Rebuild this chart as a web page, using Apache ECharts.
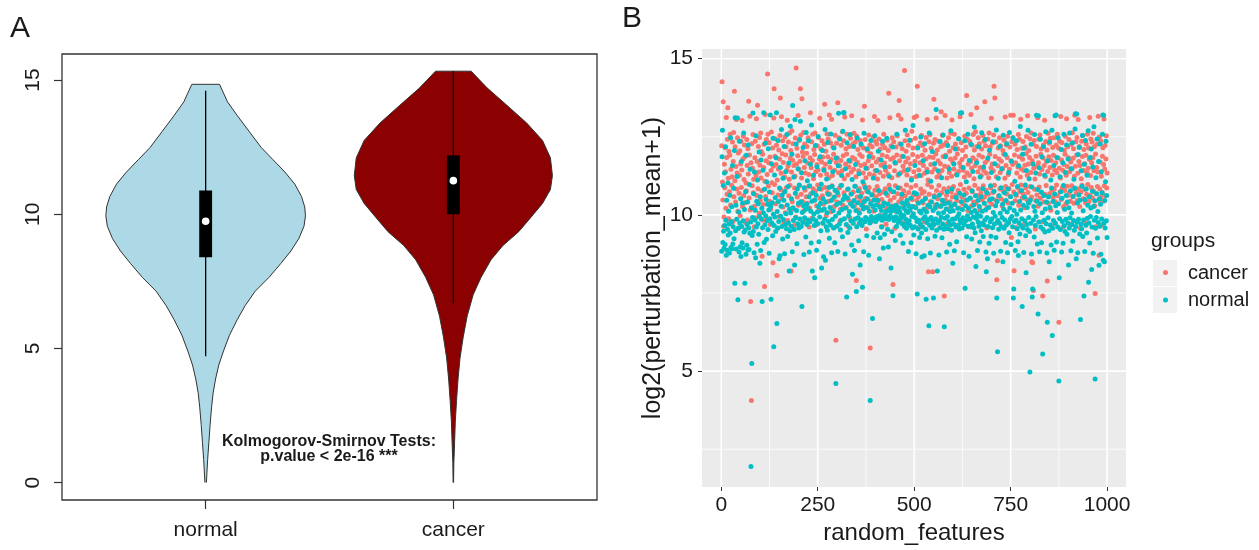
<!DOCTYPE html>
<html><head><meta charset="utf-8">
<script src="https://cdn.jsdelivr.net/npm/echarts@6/dist/echarts.min.js"></script>
<style>html,body{margin:0;padding:0;background:#fff}#c{width:1259px;height:550px}</style>
</head><body><div id="c"></div>
<script>
// ---------- Panel A: violin plot ----------
const violinCategories = ['normal', 'cancer'];
const violinPositions = [1, 2];
const violinColors = ['#ADD8E6', '#8B0000'];
const violinTicks = [0, 5, 10, 15];
// density outline (value, half width in category units)
const normalViolinY = [14.84,14.19,13.67,13.08,12.49,12.03,11.57,11.12,10.66,10.27,9.94,9.55,9.09,8.63,8.17,7.65,7.13,6.6,6.08,5.49,4.9,4.38,3.86,3.33,2.81,2.16,1.5,0.85,0];
const normalViolinHalfWidth = [0.056,0.088,0.128,0.176,0.224,0.272,0.32,0.36,0.387,0.40,0.403,0.397,0.376,0.344,0.304,0.256,0.20,0.16,0.128,0.096,0.072,0.053,0.04,0.03,0.024,0.018,0.013,0.008,0.003];
const cancerViolinY = [15.33,14.71,14.06,13.4,12.75,12.1,11.44,10.92,10.4,9.87,9.35,8.83,8.3,7.65,7.0,6.21,5.43,4.64,3.86,3.07,2.29,1.5,0.72,0];
const cancerViolinHalfWidth = [0.072,0.136,0.216,0.296,0.36,0.392,0.40,0.392,0.36,0.312,0.264,0.20,0.152,0.112,0.08,0.056,0.04,0.027,0.019,0.013,0.008,0.005,0.002,0.001];
const boxQ1 = [8.4, 10.0];
const boxQ3 = [10.88, 12.19];
const boxMedian = [9.74, 11.25];
const whiskerLow = [4.71, 6.67];
const whiskerHigh = [14.6, 15.33];
const annotationLines = ['Kolmogorov-Smirnov Tests:', 'p.value < 2e-16 ***'];

// ---------- Panel B: scatter ----------
const scatterGroups = ['cancer', 'normal'];
const scatterColors = ['#F8766D', '#00BFC4'];
const scatterXTicks = [0, 250, 500, 750, 1000];
const scatterXMinor = [125, 375, 625, 875];
const scatterYTicks = [5, 10, 15];
const scatterYMinor = [2.5, 7.5, 12.5];
const cancerValues = [
12.21,14.26,11.05,10.48,13.62,9.64,9.93,11.62,10.87,12.15,11.38,10.21,13.12,11.84,10.66,12.42,13.43,11.17,9.88,12.03,
10.74,11.91,12.58,10.32,11.46,9.71,10.95,11.22,12.33,9.79,11.71,12.64,10.58,13.96,11.09,12.18,10.41,11.55,13.05,10.83,
11.34,12.47,10.12,11.98,9.58,10.69,11.27,12.05,9.97,11.63,12.36,10.88,11.44,13.02,10.27,11.79,12.52,10.61,11.13,12.24,
11.86,10.39,9.76,11.02,10.77,12.41,11.58,9.84,12.12,11.31,13.64,10.54,11.92,13.16,10.16,7.23,11.67,4.06,12.28,10.93,
11.49,12.57,10.71,11.14,9.62,10.28,11.83,12.36,9.91,11.26,13.08,10.62,11.71,13.51,10.84,12.19,11.37,10.05,12.48,11.59,
10.46,12.62,11.18,12.03,10.77,8.68,11.94,9.83,10.33,11.52,12.26,7.71,11.08,13.21,10.59,11.73,12.41,9.86,11.29,14.51,
12.58,10.92,11.67,12.31,10.44,11.85,9.69,10.18,11.42,12.65,11.03,10.71,12.14,8.47,11.56,13.10,14.04,10.97,11.88,12.44,
10.36,11.61,12.23,8.06,11.12,9.57,10.64,11.47,12.08,9.95,11.79,12.54,13.74,10.81,11.33,13.14,10.52,11.96,12.37,10.25,
11.68,9.74,10.73,11.21,12.49,10.07,11.92,12.18,10.88,11.43,13.03,9.82,11.56,12.33,10.61,11.14,12.62,10.95,11.81,12.06,
8.20,11.37,12.69,10.42,11.75,12.28,10.19,11.58,9.66,10.86,11.24,12.46,9.93,14.70,11.63,12.13,10.57,11.89,13.18,10.31,
11.46,12.38,10.94,11.72,14.04,12.55,10.66,11.18,13.72,12.01,10.43,11.87,12.64,10.13,11.52,12.27,10.79,11.34,9.79,10.58,
11.97,12.19,10.37,11.66,12.47,10.91,11.29,9.61,10.22,11.83,13.27,10.68,11.51,12.34,9.89,11.74,12.58,10.84,11.16,12.09,
10.47,11.93,12.62,10.76,11.38,9.68,10.29,11.61,12.21,10.96,11.44,12.48,10.14,11.78,13.09,10.53,11.27,12.11,10.82,11.69,
12.37,10.61,11.85,9.73,10.35,11.48,12.26,13.54,10.88,11.62,12.04,9.97,11.31,12.59,10.72,11.86,12.43,10.44,11.19,13.20,
10.66,11.52,12.31,10.09,11.77,13.06,10.93,11.26,12.18,10.51,11.94,9.59,10.27,11.43,12.55,10.78,5.99,11.68,12.29,10.41,
11.82,13.59,10.63,11.35,12.47,10.86,11.57,9.81,10.18,11.74,12.23,10.95,11.41,12.66,10.32,11.89,12.37,10.71,11.16,13.13,
10.56,11.63,12.12,10.24,11.95,12.58,10.81,11.28,9.64,10.47,11.53,12.19,9.92,11.71,12.45,10.67,11.37,13.17,10.39,11.84,
12.27,10.73,11.46,12.61,10.28,11.79,12.33,10.92,11.22,7.90,12.52,10.57,11.68,12.09,10.16,11.41,9.72,10.84,11.93,12.38,
10.45,11.58,12.22,10.69,11.87,13.04,10.31,11.34,12.14,10.97,13.48,11.62,12.41,10.53,11.19,9.55,10.76,11.49,12.06,10.22,
11.73,12.56,10.88,11.31,12.24,5.74,11.96,9.78,10.43,11.57,12.18,10.65,11.84,12.49,10.12,11.27,13.15,10.79,11.42,12.35,
10.58,11.69,12.27,10.91,11.15,13.02,10.34,11.78,12.43,10.67,11.36,12.11,9.98,11.59,9.63,10.49,11.92,12.26,10.73,11.24,
12.58,10.38,11.66,12.15,10.84,11.43,9.70,10.21,11.87,12.39,10.62,11.31,12.06,13.89,10.95,11.54,13.11,10.47,11.78,12.21,
10.74,11.19,12.47,10.29,7.77,11.83,12.34,10.56,11.41,9.57,10.93,11.65,12.17,10.11,11.92,12.53,10.68,11.27,13.19,10.42,
13.66,11.73,12.28,10.86,11.35,13.07,10.53,11.88,12.12,10.24,11.56,9.74,10.77,11.42,14.62,12.37,10.61,11.69,12.04,10.96,
11.28,12.56,10.37,11.81,12.23,10.72,11.47,9.66,10.15,11.64,12.39,10.88,11.17,12.68,10.49,11.93,12.14,10.63,11.38,13.12,
10.27,11.72,12.45,10.94,11.23,13.16,10.46,14.12,11.86,12.19,10.58,11.44,9.61,10.12,11.67,12.31,10.83,11.26,12.54,10.69,
11.91,12.22,10.38,11.58,9.77,10.74,11.33,12.07,10.55,11.79,12.48,10.21,11.46,13.05,10.97,11.12,8.18,12.34,10.66,11.85,
12.57,10.43,11.61,12.13,10.89,11.37,9.68,8.18,11.84,12.29,13.70,10.62,11.48,12.41,10.31,11.95,13.10,10.78,11.21,12.08,
10.52,11.73,12.36,10.94,11.29,9.59,10.27,11.64,12.19,13.30,10.71,11.42,12.55,10.36,11.87,12.24,10.84,7.40,11.56,13.18,
10.48,11.91,12.32,10.63,11.18,9.72,10.19,11.53,12.47,10.86,11.36,12.04,10.42,11.79,12.61,10.73,11.24,13.04,10.57,11.68,
12.15,10.91,11.47,12.58,10.33,11.82,12.27,10.64,11.31,9.65,10.46,11.95,12.12,10.78,11.39,12.44,10.22,11.66,13.14,10.97,
11.54,12.31,10.58,11.77,12.06,10.35,11.43,9.80,10.82,11.21,12.52,10.47,11.88,12.17,10.69,13.82,11.34,12.41,10.14,11.62,
9.62,10.86,11.27,12.35,10.53,11.71,13.21,10.28,11.49,12.23,10.74,11.83,12.57,10.41,11.16,12.08,10.95,11.58,12.66,10.37,
11.74,13.43,12.19,10.62,11.38,12.47,10.84,11.91,12.28,10.16,11.52,9.71,10.69,11.26,12.11,10.48,11.85,12.54,10.93,11.42,
12.36,10.57,13.62,11.68,12.21,10.79,11.33,9.58,10.25,11.76,12.43,10.66,11.19,12.62,10.44,11.94,12.17,10.87,11.51,13.09,
10.34,11.63,12.29,10.72,11.41,12.56,14.12,10.95,13.74,11.87,12.33,10.48,11.22,7.92,9.76,8.53,11.57,12.14,10.61,11.79,
12.47,10.83,11.36,12.21,10.52,11.72,9.63,10.29,11.48,12.06,10.76,11.95,12.39,10.44,11.17,13.13,10.91,11.58,12.24,10.67,
11.84,12.52,10.38,11.29,9.74,10.84,11.46,12.17,10.59,13.19,11.73,9.28,12.34,10.97,11.61,12.48,13.19,10.73,8.21,11.92,
12.26,10.45,11.67,9.60,10.62,11.34,12.09,10.88,11.53,12.57,10.31,11.86,12.42,10.74,11.21,13.06,10.96,11.47,12.13,10.54,
11.78,12.35,10.67,11.42,9.69,10.23,11.59,12.18,10.86,11.96,12.51,10.49,11.27,13.17,10.72,11.63,12.06,10.38,11.84,12.44,
10.91,11.36,12.62,10.57,8.50,11.73,8.47,12.27,7.58,11.49,12.38,10.82,11.15,9.55,10.46,11.88,12.19,10.64,11.56,13.11,
10.28,11.67,12.42,10.89,11.31,12.56,10.53,11.94,12.11,10.72,11.45,9.78,7.40,11.82,12.24,10.41,11.58,13.03,10.66,11.23,
12.35,10.94,11.71,12.08,7.88,11.39,12.61,10.37,11.86,12.29,10.68,11.52,12.45,10.15,11.74,9.64,10.79,11.28,12.16,10.56,
11.91,12.47,10.83,11.44,9.73,10.42,11.67,12.23,10.96,11.35,12.58,10.61,11.82,12.14,6.56,11.49,12.36,10.74,11.18,13.15,
10.49,11.76,12.31,10.87,11.43,9.61,10.26,11.61,12.07,10.78,11.94,12.52,10.35,11.27,13.08,10.92,11.55,12.18,10.63,11.83,
12.41,10.71,11.38,9.70,10.44,11.69,12.25,10.93,11.47,12.63,10.58,11.81,12.12,10.37,11.24,13.19,10.82,11.56,12.34,10.69,
11.92,12.48,10.46,11.33,13.05,10.84,11.71,12.19,10.27,11.58,9.57,10.73,11.16,12.36,10.95,11.87,12.54,10.52,11.42,12.09,
10.81,11.64,9.75,10.39,11.91,12.27,10.66,11.35,12.58,10.97,11.49,12.14,10.43,11.78,13.12,10.62,11.26,12.43,10.88,11.67,
12.33,10.54,11.83,12.61,10.76,11.41,12.18,10.29,7.48,11.95,9.62,10.68,11.52,12.26,10.91,11.37,13.16,10.47,8.71,12.49,
10.83,11.69,12.37,10.57,11.24,9.68,10.72,11.88,12.15,10.44,11.61,13.07,10.93,11.47,12.22,10.61,11.79,12.53,10.86,11.34
];
const normalValues = [
8.84,11.86,12.71,9.12,10.94,9.48,8.93,11.34,9.66,9.05,12.18,9.83,8.71,10.47,8.87,9.54,11.02,9.36,10.12,9.71,
8.78,10.63,9.42,12.47,8.96,9.78,10.26,8.92,11.58,9.07,9.62,10.85,9.24,12.06,7.81,13.11,9.49,10.31,8.91,9.86,
11.23,13.10,7.28,9.57,10.09,8.81,12.36,9.74,8.98,10.52,8.67,11.71,9.63,9.11,10.38,8.94,9.81,12.62,9.45,10.17,
7.81,9.52,10.74,8.74,11.91,9.03,9.69,10.41,8.88,12.24,9.58,8.89,10.97,9.41,11.46,9.77,1.95,10.23,5.24,9.34,
9.92,13.26,9.47,10.68,8.79,11.37,9.84,10.15,8.63,12.53,9.61,10.44,9.06,11.12,9.72,10.36,9.38,12.01,9.95,8.45,
10.58,8.86,11.76,9.87,10.21,7.23,9.59,11.43,10.07,13.27,9.12,10.82,9.68,12.29,9.97,10.49,9.22,11.05,9.81,10.34,
9.53,12.12,10.16,8.77,10.73,9.88,13.20,10.27,7.30,11.64,9.74,10.39,9.33,12.45,10.02,5.78,9.66,11.28,9.93,10.55,
9.47,11.83,13.27,6.52,10.11,9.58,12.38,10.43,9.79,8.60,10.86,8.69,11.52,9.96,10.28,12.73,9.63,10.64,9.23,11.17,
9.85,10.47,12.19,8.76,10.75,9.69,11.38,10.04,9.56,12.57,10.32,9.31,10.91,9.74,11.66,8.20,10.18,9.49,12.84,10.06,
9.64,10.52,11.94,8.82,13.50,10.23,9.82,11.21,9.53,8.40,13.05,10.69,9.91,12.27,10.14,9.08,10.83,9.72,11.48,10.37,
9.58,10.96,12.41,9.87,13.00,10.42,9.63,11.35,7.07,10.08,9.76,12.16,10.29,8.73,10.87,9.91,11.73,10.17,9.29,12.64,
10.35,9.69,11.09,10.21,9.84,12.37,10.58,8.81,10.93,9.78,11.62,10.12,9.10,12.88,10.44,8.20,10.71,9.88,11.27,10.03,
9.66,7.99,10.48,12.22,9.81,10.63,8.87,11.54,10.09,9.72,12.51,10.26,9.14,10.84,9.93,11.86,10.37,9.49,10.98,8.30,
10.15,12.06,9.74,10.52,8.66,11.43,10.19,9.86,12.73,8.55,10.41,9.62,11.15,10.07,9.51,12.32,10.66,9.79,10.88,9.25,
11.69,10.24,9.67,12.59,10.46,8.79,10.91,9.85,11.38,10.13,9.58,12.14,10.57,9.11,10.79,9.96,4.60,11.82,10.33,9.64,
10.72,8.83,11.57,13.25,10.06,9.71,12.43,10.38,9.52,10.94,9.83,11.26,10.17,9.30,12.68,10.49,13.27,13.28,9.88,10.61,
8.75,11.48,10.22,9.69,7.37,12.31,10.54,9.44,10.83,9.97,11.74,10.11,9.58,12.57,10.36,9.81,10.67,9.04,11.13,8.10,
10.28,9.73,12.19,10.46,8.86,10.92,9.87,11.61,10.14,7.55,9.62,12.46,10.39,9.91,10.77,9.17,11.32,10.05,9.76,8.40,
10.59,12.27,9.84,10.31,9.66,7.68,11.06,10.19,8.82,12.61,10.43,9.78,10.88,9.92,11.49,10.24,9.33,12.11,10.51,9.86,
10.73,8.71,11.87,10.12,9.74,4.06,10.36,12.38,9.95,10.64,9.82,6.68,10.27,11.18,9.28,10.48,9.88,12.53,10.16,9.79,
10.32,9.94,11.42,9.42,9.86,10.47,12.04,10.78,9.97,8.60,10.25,9.27,9.91,11.76,10.14,9.61,9.83,12.36,10.29,8.94,
9.96,10.38,9.38,11.53,10.04,9.88,10.69,10.12,12.45,9.93,9.54,10.35,8.97,9.85,11.24,10.19,10.82,9.97,10.11,8.30,
10.26,9.46,9.91,12.17,7.41,10.14,10.74,9.82,10.22,11.68,9.18,9.94,10.31,9.63,12.58,9.89,10.09,10.87,9.76,10.24,
11.31,10.11,9.84,9.35,10.02,12.26,9.92,10.66,10.39,9.71,9.09,11.87,9.98,10.21,9.63,10.34,12.71,9.86,10.13,9.57,
10.46,9.73,11.44,10.08,8.83,10.29,9.81,12.39,10.16,9.67,10.53,9.11,11.12,9.95,10.27,9.58,12.86,10.04,9.36,10.71,
9.62,11.58,9.91,10.23,8.76,10.68,9.79,7.47,12.14,9.55,10.37,9.83,11.26,9.28,10.12,9.71,12.49,10.06,9.42,8.65,
10.44,9.61,11.73,9.88,10.18,8.69,12.28,9.94,10.52,9.53,7.30,10.09,9.76,11.37,9.24,10.31,9.85,6.45,12.62,9.67,
10.26,8.78,11.08,9.92,10.41,9.58,12.03,9.81,10.14,7.34,9.69,10.57,11.64,9.32,10.22,9.87,13.37,9.51,10.33,8.20,
9.74,11.41,10.05,8.72,10.63,9.82,12.35,9.59,10.28,9.93,11.19,9.27,10.47,9.71,12.56,10.08,9.54,6.42,10.36,9.89,
11.86,9.63,10.19,8.81,10.74,9.95,12.22,9.56,10.38,9.79,11.47,9.06,10.11,9.68,12.69,10.27,9.51,10.83,9.86,8.45,
10.13,9.72,11.63,8.85,10.35,9.88,12.11,9.61,10.56,9.14,11.28,9.94,10.21,9.67,12.44,10.04,9.55,10.69,9.83,13.26,
9.76,10.42,13.27,9.58,10.17,9.91,11.52,8.79,10.64,9.69,12.37,7.65,10.29,9.82,11.06,9.30,10.48,9.97,12.58,9.64,
10.21,8.68,11.74,9.86,10.53,9.62,12.26,10.08,9.23,10.77,9.71,11.39,9.93,10.32,9.58,12.81,10.14,9.43,10.61,8.35,
9.89,11.67,10.04,8.86,10.46,9.77,12.18,9.64,10.27,9.13,11.21,9.96,10.58,9.49,12.63,10.12,9.73,10.84,9.31,11.53,
9.68,10.37,9.84,12.41,10.16,8.81,8.18,10.71,9.92,8.60,11.82,9.63,10.24,9.09,12.07,10.49,9.78,10.93,9.32,11.36,
9.87,10.52,9.59,12.34,10.08,8.77,10.76,9.71,11.64,9.96,10.29,9.28,12.72,7.34,10.43,5.62,9.82,11.17,9.54,10.61,
9.73,12.19,10.05,8.84,10.87,9.61,11.48,9.92,10.34,8.50,12.55,10.18,9.57,10.71,9.84,11.93,9.12,10.46,9.68,12.28,
10.09,8.79,10.83,9.76,11.36,9.43,12.64,10.22,9.87,10.58,9.05,11.72,9.95,10.37,9.62,12.46,7.34,7.63,10.14,9.79,
11.08,8.86,10.66,9.83,12.37,10.02,9.56,10.91,9.14,8.70,11.57,9.74,10.43,9.39,12.83,10.16,9.65,10.78,9.88,7.07,
11.94,9.58,10.31,8.80,12.13,10.57,9.81,10.96,9.33,8.15,11.42,9.69,10.24,9.53,12.71,10.39,9.92,11.16,9.47,4.97,
10.48,9.73,12.26,8.75,10.89,7.37,7.63,11.63,9.84,10.27,9.29,12.57,10.12,9.66,11.34,9.95,13.19,10.44,9.07,10.81,
6.83,13.17,9.77,11.51,8.82,10.36,12.42,9.61,10.73,9.11,11.86,10.07,5.55,9.54,12.18,10.62,9.83,11.27,9.45,10.19,
12.66,9.72,10.41,8.78,6.56,11.73,9.91,10.58,9.49,8.50,12.33,10.24,9.68,11.12,9.04,10.86,12.71,6.14,9.57,10.43,
9.82,11.58,8.87,10.67,13.17,9.73,10.29,13.20,9.13,11.84,10.08,9.61,12.47,10.36,4.68,7.99,9.88,11.22,9.53,10.74,
12.09,8.81,10.53,9.79,11.67,9.09,10.94,12.58,9.65,10.18,9.47,11.36,9.86,10.62,12.24,9.38,10.41,9.74,11.79,8.40,
10.23,9.58,12.62,9.91,10.77,8.85,11.48,10.06,9.69,12.31,9.16,10.59,9.82,11.14,9.51,10.86,12.75,13.24,9.63,8.60,
13.23,9.77,10.38,8.79,11.93,9.86,10.64,12.16,9.39,10.47,6.65,9.71,11.41,9.56,10.92,12.54,9.31,10.13,9.84,7.40,
11.62,8.83,10.49,12.38,9.67,10.83,9.42,11.27,9.89,10.31,12.69,7.84,9.74,10.58,9.10,11.84,9.95,10.22,12.11,8.25,
9.61,10.76,11.53,8.77,10.27,12.82,9.83,10.45,4.75,9.57,11.19,9.92,10.68,12.43,9.26,10.11,9.76,11.71,8.39,10.52,
9.64,12.27,10.34,8.74,11.38,9.87,10.71,12.58,13.20,8.55,13.19,9.73,8.50,10.46,9.58,11.06,12.36,9.81,10.62,9.28
];

const FONT = '"Liberation Sans", Arial, Helvetica, sans-serif';
const INK = '#1a1a1a';
const boxHalf = 0.026;

function renderViolin(params, api) {
  const i = params.dataIndex;
  const c = api.value(0);
  const ys = i === 0 ? normalViolinY : cancerViolinY;
  const ws = i === 0 ? normalViolinHalfWidth : cancerViolinHalfWidth;
  const leftSide = [], rightSide = [];
  for (let k = 0; k < ys.length; k++) {
    leftSide.push(api.coord([c - ws[k], ys[k]]));
    rightSide.push(api.coord([c + ws[k], ys[k]]));
  }
  const fillPts = leftSide.concat(rightSide.slice().reverse());
  const leftOutline = [rightSide[0]].concat(leftSide);
  const lo = api.coord([c, whiskerLow[i]]);
  const hi = api.coord([c, whiskerHigh[i]]);
  const tl = api.coord([c - boxHalf, boxQ3[i]]);
  const br = api.coord([c + boxHalf, boxQ1[i]]);
  const med = api.coord([c, boxMedian[i]]);
  const outline = { stroke: '#333', lineWidth: 1, lineJoin: 'round', lineCap: 'butt', fill: null };
  return {
    type: 'group',
    children: [
      { type: 'polygon', shape: { points: fillPts }, style: { fill: violinColors[i], stroke: null } },
      { type: 'polyline', shape: { points: leftOutline }, style: outline },
      { type: 'polyline', shape: { points: rightSide }, style: outline },
      { type: 'line', shape: { x1: lo[0], y1: lo[1], x2: hi[0], y2: hi[1] }, style: { stroke: '#000', lineWidth: 1.3 } },
      { type: 'rect', shape: { x: tl[0], y: tl[1], width: br[0] - tl[0], height: br[1] - tl[1] }, style: { fill: '#000' } },
      { type: 'circle', shape: { cx: med[0], cy: med[1], r: 3.8 }, style: { fill: '#fff' } }
    ]
  };
}

function renderVGrid(params, api) {
  const cs = params.coordSys;
  const x = api.coord([api.value(0), 10])[0];
  return { type: 'line', shape: { x1: x, y1: cs.y, x2: x, y2: cs.y + cs.height },
    style: { stroke: '#fff', lineWidth: api.value(1) ? 1.6 : 0.8 } };
}
function renderHGrid(params, api) {
  const cs = params.coordSys;
  const y = api.coord([500, api.value(0)])[1];
  return { type: 'line', shape: { x1: cs.x, y1: y, x2: cs.x + cs.width, y2: y },
    style: { stroke: '#fff', lineWidth: api.value(1) ? 1.6 : 0.8 } };
}

const chart = echarts.init(document.getElementById('c'), null, { renderer: 'canvas' });
chart.setOption({
  animation: false,
  grid: [
    { left: 62, top: 54, width: 535, height: 446, show: true, borderColor: '#333', borderWidth: 1.3, backgroundColor: '#fff' },
    { left: 702, top: 49, width: 424, height: 441, show: true, borderWidth: 0, backgroundColor: '#EBEBEB' }
  ],
  xAxis: [
    { gridIndex: 0, type: 'value', min: 0.42, max: 2.58, position: 'bottom',
      axisLine: { show: false, onZero: false }, splitLine: { show: false },
      axisTick: { show: true, customValues: violinPositions, length: 9, lineStyle: { color: '#333', width: 1.2 } },
      axisLabel: { customValues: violinPositions, formatter: v => violinCategories[violinPositions.indexOf(v)],
        margin: 20, fontSize: 21, color: INK, fontFamily: FONT } },
    { gridIndex: 1, type: 'value', min: -50, max: 1049, position: 'bottom',
      axisLine: { show: false, onZero: false }, splitLine: { show: false },
      axisTick: { show: true, customValues: scatterXTicks, length: 4, lineStyle: { color: '#333' } },
      axisLabel: { customValues: scatterXTicks, formatter: v => String(v), margin: 8, fontSize: 21, color: INK, fontFamily: FONT },
      name: 'random_features', nameLocation: 'middle', nameGap: 34,
      nameTextStyle: { fontSize: 24, color: INK, fontFamily: FONT } }
  ],
  yAxis: [
    { gridIndex: 0, type: 'value', min: -0.65, max: 15.97, position: 'left',
      axisLine: { show: false, onZero: false }, splitLine: { show: false },
      axisTick: { show: true, customValues: violinTicks, length: 8, lineStyle: { color: '#333', width: 1.2 } },
      axisLabel: { customValues: violinTicks, rotate: 90, margin: 18, fontSize: 21, color: INK, fontFamily: FONT } },
    { gridIndex: 1, type: 'value', min: 1.29, max: 15.31, position: 'left',
      axisLine: { show: false, onZero: false }, splitLine: { show: false },
      axisTick: { show: true, customValues: scatterYTicks, length: 4, lineStyle: { color: '#333' } },
      axisLabel: { customValues: scatterYTicks, formatter: v => String(v), margin: 9, fontSize: 21, color: INK, fontFamily: FONT },
      name: 'log2(perturbation_mean+1)', nameLocation: 'middle', nameGap: 35,
      nameTextStyle: { fontSize: 25, color: INK, fontFamily: FONT } }
  ],
  series: [
    { type: 'custom', name: 'violin', xAxisIndex: 0, yAxisIndex: 0, renderItem: renderViolin,
      data: violinPositions.map((p, i) => [p, boxMedian[i]]), silent: true },
    { type: 'custom', name: 'vgrid', xAxisIndex: 1, yAxisIndex: 1, renderItem: renderVGrid, z: 1, silent: true,
      data: scatterXTicks.map(v => [v, 1]).concat(scatterXMinor.map(v => [v, 0])) },
    { type: 'custom', name: 'hgrid', xAxisIndex: 1, yAxisIndex: 1, renderItem: renderHGrid, z: 1, silent: true,
      encode: { x: 2, y: 0 },
      data: scatterYTicks.map(v => [v, 1, 500]).concat(scatterYMinor.map(v => [v, 0, 500])) },
    { type: 'scatter', name: scatterGroups[0], xAxisIndex: 1, yAxisIndex: 1, z: 3,
      symbolSize: 5, itemStyle: { color: scatterColors[0], opacity: 1 },
      data: cancerValues.map((v, i) => [i + 1, v]) },
    { type: 'scatter', name: scatterGroups[1], xAxisIndex: 1, yAxisIndex: 1, z: 4,
      symbolSize: 5, itemStyle: { color: scatterColors[1], opacity: 1 },
      data: normalValues.map((v, i) => [i + 1, v]) }
  ],
  graphic: [
    { type: 'text', left: 10, top: 14, style: { text: 'A', fontSize: 30, fill: INK, fontFamily: FONT } },
    { type: 'text', left: 622, top: 4, style: { text: 'B', fontSize: 30, fill: INK, fontFamily: FONT } },
    { type: 'text', x: 329, y: 449, style: { text: annotationLines.join('\n'), fontSize: 16, fontWeight: 'bold',
        lineHeight: 15, fill: INK, fontFamily: FONT, align: 'center', verticalAlign: 'middle' } },
    { type: 'text', x: 1151, y: 241, style: { text: 'groups', fontSize: 21, fill: INK, fontFamily: FONT, verticalAlign: 'middle' } },
    { type: 'rect', shape: { x: 1153, y: 260, width: 24, height: 26 }, style: { fill: '#F2F2F2' } },
    { type: 'rect', shape: { x: 1153, y: 287, width: 24, height: 26 }, style: { fill: '#F2F2F2' } },
    { type: 'circle', shape: { cx: 1165.5, cy: 272.5, r: 2.5 }, style: { fill: scatterColors[0] } },
    { type: 'circle', shape: { cx: 1165.5, cy: 300, r: 2.5 }, style: { fill: scatterColors[1] } },
    { type: 'text', x: 1188, y: 273, style: { text: scatterGroups[0], fontSize: 20, fill: INK, fontFamily: FONT, verticalAlign: 'middle' } },
    { type: 'text', x: 1188, y: 300, style: { text: scatterGroups[1], fontSize: 20, fill: INK, fontFamily: FONT, verticalAlign: 'middle' } }
  ]
});
</script>
</body></html>
